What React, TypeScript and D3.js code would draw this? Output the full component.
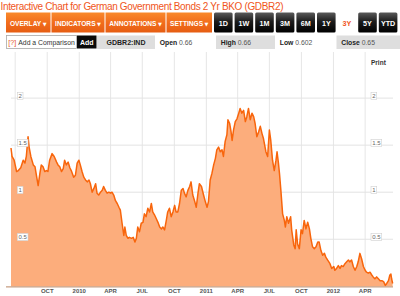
import React from "react";
import * as d3 from "d3";

// ---------- DATA ----------
const title = "Interactive Chart for German Government Bonds 2 Yr BKO (GDBR2)";
const menuLabels = ["OVERLAY", "INDICATORS", "ANNOTATIONS", "SETTINGS"];
const periodLabels = ["1D", "1W", "1M", "3M", "6M", "1Y", "3Y", "5Y", "YTD"];
const selectedPeriod = "3Y";
const ticker = "GDBR2:IND";
const quoteLabels = ["Open", "High", "Low", "Close"];
const quoteValues = ["0.66", "0.66", "0.602", "0.65"];
const yTicks = [0.5, 1, 1.5, 2];
const domainStart = "2009-06-19";
const domainEnd = "2012-06-20";

const dates = [
  "2009-06-19","2009-06-22","2009-06-28","2009-07-05","2009-07-10","2009-07-17","2009-07-24","2009-07-29",
  "2009-08-02","2009-08-07","2009-08-10","2009-08-15","2009-08-22","2009-08-27","2009-08-31","2009-09-05",
  "2009-09-10","2009-09-14","2009-09-19","2009-09-24","2009-09-29","2009-10-03","2009-10-08","2009-10-15",
  "2009-10-21","2009-10-28","2009-11-01","2009-11-06","2009-11-11","2009-11-16","2009-11-20","2009-11-25",
  "2009-11-30","2009-12-05","2009-12-09",
  "2009-12-16","2009-12-21","2009-12-26","2009-12-31","2010-01-04","2010-01-09","2010-01-14","2010-01-19",
  "2010-01-24","2010-01-29","2010-02-02","2010-02-07","2010-02-12","2010-02-17","2010-02-21","2010-02-26",
  "2010-03-03","2010-03-08","2010-03-12","2010-03-17","2010-03-22","2010-03-27","2010-04-01","2010-04-05",
  "2010-04-10","2010-04-15","2010-04-20","2010-04-25","2010-04-29","2010-05-04","2010-05-09","2010-05-12",
  "2010-05-16","2010-05-21","2010-05-25","2010-05-31","2010-06-05","2010-06-10","2010-06-14",
  "2010-06-18","2010-06-23","2010-06-28","2010-07-03","2010-07-07","2010-07-12","2010-07-17","2010-07-22",
  "2010-07-27","2010-07-31","2010-08-05","2010-08-10","2010-08-15","2010-08-20","2010-08-25","2010-08-29",
  "2010-09-03","2010-09-08","2010-09-12","2010-09-17","2010-09-22","2010-09-27","2010-10-02","2010-10-06",
  "2010-10-11","2010-10-16","2010-10-21","2010-10-26","2010-10-30","2010-11-04","2010-11-09","2010-11-14",
  "2010-11-18","2010-11-23","2010-11-28","2010-12-03","2010-12-08","2010-12-12","2010-12-18",
  "2010-12-24","2010-12-29","2011-01-03","2011-01-07","2011-01-12","2011-01-17","2011-01-22","2011-01-27",
  "2011-01-31","2011-02-05","2011-02-10","2011-02-15","2011-02-19","2011-02-24","2011-03-01","2011-03-04",
  "2011-03-09","2011-03-13","2011-03-16","2011-03-20","2011-03-25","2011-03-30","2011-04-04","2011-04-08",
  "2011-04-13","2011-04-18","2011-04-23","2011-04-27","2011-05-02","2011-05-07","2011-05-12","2011-05-17",
  "2011-05-21","2011-05-26","2011-05-31","2011-06-05","2011-06-10","2011-06-14",
  "2011-06-21","2011-06-26","2011-07-01","2011-07-05","2011-07-10","2011-07-15","2011-07-20","2011-07-23",
  "2011-07-27","2011-07-30","2011-08-03","2011-08-08","2011-08-13","2011-08-16","2011-08-20","2011-08-25",
  "2011-08-31","2011-09-03","2011-09-09","2011-09-13","2011-09-16","2011-09-20","2011-09-25","2011-09-30",
  "2011-10-04","2011-10-09","2011-10-14","2011-10-19","2011-10-24","2011-10-28","2011-11-02","2011-11-07",
  "2011-11-12","2011-11-17","2011-11-21","2011-11-26","2011-12-01","2011-12-06","2011-12-10","2011-12-15",
  "2011-12-22","2011-12-27","2012-01-02","2012-01-05","2012-01-10","2012-01-15","2012-01-20","2012-01-24",
  "2012-01-29","2012-02-03","2012-02-08","2012-02-13","2012-02-17","2012-02-22","2012-02-27","2012-03-03",
  "2012-03-08","2012-03-12","2012-03-17","2012-03-22","2012-03-27","2012-04-01","2012-04-05","2012-04-10",
  "2012-04-15","2012-04-20","2012-04-24","2012-04-29","2012-05-04","2012-05-09","2012-05-14","2012-05-19",
  "2012-05-24","2012-05-29","2012-06-02","2012-06-07","2012-06-11","2012-06-14","2012-06-16","2012-06-19",
];

const yields = [
  1.47,1.38,1.34,1.22,1.23,1.26,1.34,1.31,
  1.38,1.59,1.48,1.38,1.29,1.27,1.18,1.07,
  1.20,1.29,1.27,1.22,1.23,1.22,1.34,1.41,
  1.38,1.32,1.29,1.27,1.22,1.25,1.34,1.29,
  1.32,1.26,1.23,
  1.16,1.18,1.31,1.34,1.29,1.22,1.16,1.13,
  1.11,1.13,1.09,1.00,1.04,1.09,0.99,0.97,
  1.00,1.02,1.06,1.02,0.99,1.00,0.99,1.00,
  0.97,0.91,0.88,0.84,0.81,0.67,0.54,0.63,
  0.54,0.51,0.52,0.51,0.52,0.47,0.51,
  0.63,0.58,0.67,0.68,0.77,0.74,0.83,0.79,
  0.88,0.79,0.76,0.72,0.68,0.63,0.61,0.63,
  0.60,0.70,0.79,0.83,0.74,0.79,0.86,0.79,
  0.79,0.88,1.02,1.04,0.99,0.95,1.02,1.06,
  1.11,0.97,0.91,0.84,0.99,1.09,1.06,
  0.97,0.90,0.84,0.90,1.13,1.20,1.29,1.36,
  1.45,1.48,1.43,1.45,1.38,1.54,1.61,1.77,
  1.73,1.64,1.55,1.66,1.75,1.78,1.84,1.89,
  1.84,1.87,1.75,1.80,1.89,1.77,1.84,1.80,
  1.73,1.59,1.64,1.70,1.62,1.57,
  1.43,1.38,1.66,1.55,1.34,1.23,1.34,1.43,
  1.31,1.20,1.02,0.77,0.70,0.63,0.74,0.67,
  0.74,0.60,0.44,0.40,0.60,0.45,0.40,0.60,
  0.56,0.70,0.61,0.68,0.61,0.51,0.42,0.40,
  0.42,0.47,0.47,0.38,0.33,0.35,0.31,0.28,
  0.24,0.19,0.21,0.17,0.19,0.22,0.19,0.22,
  0.21,0.24,0.26,0.28,0.26,0.28,0.21,0.17,
  0.21,0.26,0.35,0.29,0.21,0.17,0.15,0.14,
  0.15,0.12,0.10,0.08,0.10,0.08,0.06,0.06,
  0.05,0.01,0.03,0.06,0.12,0.13,0.08,0.03,
];

// ---------- LAYOUT ----------
const W = 400;
const H = 296;
const FONT = "'Liberation Sans', Arial, Helvetica, sans-serif";
const PLOT = { left: 11, right: 393, top: 52, bottom: 286.3, yAt2: 98.1 };
const BAR = { top: 12.5, h: 20 };
const menuEdges = [6, 51.5, 105.5, 166.5, 213];
const periodStart = 214;
const periodStep = 20.6;
const periodW = 18.6;
const ROW2 = { top: 35.5, h: 13, base: 45.2 };
const cellEdges = [97, 155, 216, 275, 336.5, 400];

type Pt = { date: Date; value: number };

export default function App() {
  const parse = d3.timeParse("%Y-%m-%d");
  const data: Pt[] = dates.map((d, i) => ({ date: parse(d) as Date, value: yields[i] }));

  const x = d3
    .scaleTime()
    .domain([parse(domainStart) as Date, parse(domainEnd) as Date])
    .range([PLOT.left, PLOT.right]);
  const y = d3.scaleLinear().domain([0, 2]).range([PLOT.bottom, PLOT.yAt2]);

  const area = d3
    .area<Pt>()
    .x((d) => x(d.date))
    .y0(y(0))
    .y1((d) => y(d.value));
  const line = d3
    .line<Pt>()
    .x((d) => x(d.date))
    .y((d) => y(d.value));

  const xTicks = x.ticks(d3.timeMonth.every(3) as any);
  const fmtTick = (d: Date) =>
    d.getMonth() === 0 ? d3.timeFormat("%Y")(d) : d3.timeFormat("%b")(d).toUpperCase();

  const labelWidth = (s: string) =>
    s.split("").reduce((a, c) => a + (c === "." ? 1.7 : 3.3), 0) + 2.4;

  return (
    <div style={{ position: "fixed", left: 0, top: 0, width: W, height: H, background: "#fff" }}>
      <svg width={W} height={H} viewBox={`0 0 ${W} ${H}`} style={{ display: "block", fontFamily: FONT }}>
        <defs>
          <linearGradient id="og" x1="0" y1="0" x2="0" y2="1">
            <stop offset="0" stopColor="#f98a2c" />
            <stop offset="0.5" stopColor="#f26d1c" />
            <stop offset="1" stopColor="#e65d12" />
          </linearGradient>
          <linearGradient id="bg" x1="0" y1="0" x2="0" y2="1">
            <stop offset="0" stopColor="#5a5a5a" />
            <stop offset="0.45" stopColor="#1c1c1c" />
            <stop offset="1" stopColor="#000" />
          </linearGradient>
        </defs>

        <rect x={0} y={0} width={W} height={H} fill="#fff" />

        {/* Title */}
        <text x={0.5} y={9.5} fontSize={10} fill="#f0561c" textLength={283} lengthAdjust="spacing">
          {title}
        </text>

        {/* Menu buttons */}
        {menuLabels.map((m, i) => {
          const x0 = menuEdges[i];
          const x1 = menuEdges[i + 1] - 1;
          return (
            <g key={m}>
              <rect x={x0} y={BAR.top} width={x1 - x0} height={BAR.h} fill="url(#og)" />
              <text
                x={(x0 + x1) / 2}
                y={BAR.top + 13.3}
                textAnchor="middle"
                fontSize={6.6}
                fontWeight="bold"
                fill="#fff"
              >
                {m}
                <tspan fontSize={5} fontFamily="'DejaVu Sans', sans-serif" dx={1.5}>
                  ▼
                </tspan>
              </text>
            </g>
          );
        })}

        {/* Period buttons */}
        {periodLabels.map((p, i) => {
          const x0 = periodStart + i * periodStep;
          const sel = p === selectedPeriod;
          return (
            <g key={p}>
              <rect
                x={x0}
                y={BAR.top}
                width={periodW}
                height={BAR.h}
                rx={1.5}
                fill={sel ? "#fff" : "url(#bg)"}
              />
              <text
                x={x0 + periodW / 2}
                y={BAR.top + 13.5}
                textAnchor="middle"
                fontSize={7.2}
                fontWeight="bold"
                fill={sel ? "#f0561c" : "#fff"}
              >
                {p}
              </text>
            </g>
          );
        })}

        {/* Row 2: comparison box */}
        <rect x={6.5} y={ROW2.top} width={70} height={ROW2.h} fill="#fff" stroke="#a8a8a8" strokeWidth={0.8} />
        <text x={8.3} y={ROW2.base} fontSize={7} fill="#e4521c">
          [?]
        </text>
        <text x={18.3} y={ROW2.base} fontSize={7} fill="#333" textLength={56.5} lengthAdjust="spacingAndGlyphs">
          Add a Comparison
        </text>
        <rect x={77} y={ROW2.top} width={19.5} height={ROW2.h} fill="#0a0a0a" />
        <text x={86.8} y={ROW2.base} textAnchor="middle" fontSize={7} fontWeight="bold" fill="#fff">
          Add
        </text>

        {/* Row 2: quote cells */}
        <rect x={cellEdges[0]} y={ROW2.top} width={cellEdges[1] - cellEdges[0]} height={ROW2.h + 0.5} fill="#dedede" />
        <text
          x={(cellEdges[0] + cellEdges[1]) / 2}
          y={ROW2.base}
          textAnchor="middle"
          fontSize={7}
          fontWeight="bold"
          fill="#222"
        >
          {ticker}
        </text>
        {quoteLabels.map((q, i) => {
          const x0 = cellEdges[i + 1];
          const x1 = cellEdges[i + 2];
          const shaded = i % 2 === 1;
          return (
            <g key={q}>
              {shaded && (
                <rect x={x0} y={ROW2.top} width={x1 - x0} height={ROW2.h + 0.5} fill="#dedede" />
              )}
              <text x={x0 + 4.8} y={ROW2.base} fontSize={6.8} fill="#555">
                <tspan fontWeight="bold" fill="#222">
                  {q}
                </tspan>
                <tspan> {quoteValues[i]}</tspan>
              </text>
            </g>
          );
        })}

        {/* Plot gridlines */}
        {xTicks.map((t, i) => (
          <line
            key={"vx" + i}
            x1={x(t)}
            x2={x(t)}
            y1={PLOT.top}
            y2={PLOT.bottom}
            stroke="#e6e6e6"
            strokeWidth={1}
          />
        ))}
        {yTicks.map((v) => (
          <line
            key={"hy" + v}
            x1={PLOT.left}
            x2={PLOT.right}
            y1={y(v)}
            y2={y(v)}
            stroke="#e3e3e3"
            strokeWidth={1}
          />
        ))}

        {/* Series */}
        <path d={area(data) || ""} fill="#fcad7c" />
        <path d={line(data) || ""} fill="none" stroke="#f8650c" strokeWidth={1.5} strokeLinejoin="round" />

        {/* Axis baseline */}
        <line x1={6} x2={PLOT.right} y1={PLOT.bottom + 0.6} y2={PLOT.bottom + 0.6} stroke="#b98563" strokeWidth={1} />

        {/* X tick labels */}
        {xTicks
          .filter((t) => x(t) > PLOT.left + 15)
          .map((t, i) => (
            <text
              key={"xl" + i}
              x={x(t)}
              y={292.6}
              textAnchor="middle"
              fontSize={6}
              fontWeight="bold"
              fill="#555"
            >
              {fmtTick(t)}
            </text>
          ))}

        {/* Y labels left and right */}
        {yTicks.map((v) => {
          const s = String(v);
          const w = labelWidth(s);
          const cy = y(v) - 2.2;
          return (
            <g key={"yl" + v}>
              {[17.3, 371].map((lx) => (
                <g key={lx}>
                  <rect x={lx} y={cy - 3.6} width={w} height={7.2} fill="#fff" stroke="#d0d0d0" strokeWidth={0.6} />
                  <text x={lx + w / 2} y={cy + 2.2} textAnchor="middle" fontSize={6} fill="#666">
                    {s}
                  </text>
                </g>
              ))}
            </g>
          );
        })}

        {/* Print */}
        <text x={371} y={65} fontSize={6.5} fontWeight="bold" fill="#333">
          Print
        </text>
      </svg>
    </div>
  );
}
